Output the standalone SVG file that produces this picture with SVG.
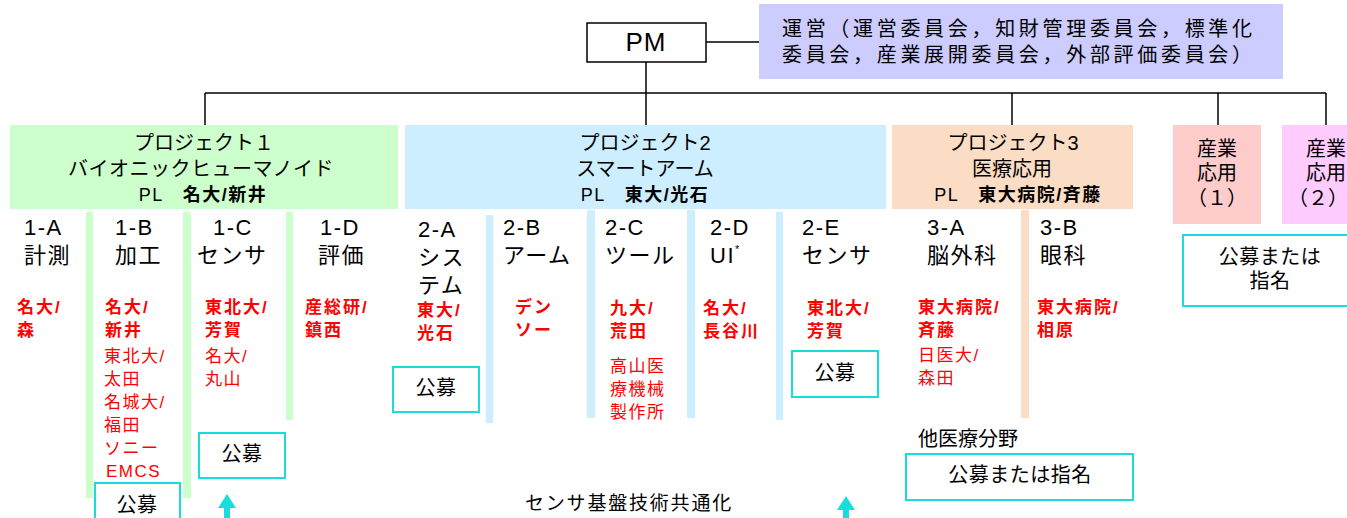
<svg xmlns="http://www.w3.org/2000/svg" width="1347" height="518" viewBox="0 0 1347 518">
<style>
text{font-family:"Liberation Sans","Noto Sans CJK JP",sans-serif;fill:#000}
.hd{font-size:20px;text-anchor:middle}
.pl{font-size:18px;text-anchor:middle;letter-spacing:1.5px}
.b{font-weight:bold}
.ct{font-size:22px;letter-spacing:1.5px}
.r{font-size:17px;fill:#ff0000;letter-spacing:1.5px}
.rb{font-size:17px;fill:#ff0000;font-weight:bold;letter-spacing:2px}
.cy{fill:#fff;stroke:#1adcdc;stroke-width:2}
.bx{font-size:20px;text-anchor:middle;letter-spacing:0.5px}
.ln{stroke:#000;stroke-width:1.5;fill:none}
.g{fill:#ccffcc}.bl{fill:#cceeff}.pe{fill:#fbdcc4}
.ar{fill:#1adcdc}
</style>
<g id="connectors">
<line class="ln" x1="706" y1="42" x2="759" y2="42"/>
<line class="ln" x1="646" y1="62" x2="646" y2="125"/>
<line class="ln" x1="205" y1="93" x2="1326" y2="93"/>
<line class="ln" x1="205" y1="93" x2="205" y2="125"/>
<line class="ln" x1="1012" y1="93" x2="1012" y2="125"/>
<line class="ln" x1="1218" y1="93" x2="1218" y2="125"/>
<line class="ln" x1="1326" y1="93" x2="1326" y2="125"/>
</g>
<g id="pm">
<rect x="587" y="23" width="119" height="39" fill="#fff" stroke="#000" stroke-width="1.5"/>
<text x="646" y="51" font-size="26" text-anchor="middle" letter-spacing="1">PM</text>
</g>
<g id="unei">
<rect x="759" y="4" width="524" height="75" fill="#ccccff"/>
<text x="782" y="36" font-size="20" textLength="470" lengthAdjust="spacing">運営（運営委員会，知財管理委員会，標準化</text>
<text x="782" y="62" font-size="20" textLength="470" lengthAdjust="spacing">委員会，産業展開委員会，外部評価委員会）</text>
</g>
<g id="project1">
<rect class="g" x="10" y="125" width="388" height="84"/>
<text class="hd" x="204" y="150">プロジェクト１</text>
<text class="hd" x="201" y="176" letter-spacing="0.5">バイオニックヒューマノイド</text>
<text class="pl" x="203" y="201">PL　<tspan class="b">名大/新井</tspan></text>
</g>
<g id="project2">
<rect class="bl" x="405" y="125" width="481" height="84"/>
<text class="hd" x="645" y="150">プロジェクト2</text>
<text class="hd" x="645" y="176">スマートアーム</text>
<text class="pl" x="645" y="201">PL　<tspan class="b">東大/光石</tspan></text>
</g>
<g id="project3">
<rect class="pe" x="892" y="125" width="241" height="84"/>
<text class="hd" x="1013" y="150">プロジェクト3</text>
<text class="hd" x="1012" y="176">医療応用</text>
<text class="pl" x="1018" y="201">PL　<tspan class="b">東大病院/斉藤</tspan></text>
</g>
<g id="sangyo1">
<rect x="1173" y="125" width="88" height="99" fill="#ffcccc"/>
<text class="hd" x="1217" y="156">産業</text>
<text class="hd" x="1217" y="180">応用</text>
<text class="hd" x="1217" y="205">（１）</text>
</g>
<g id="sangyo2">
<rect x="1282" y="125" width="90" height="99" fill="#ffccff"/>
<text class="hd" x="1326" y="156">産業</text>
<text class="hd" x="1326" y="180">応用</text>
<text class="hd" x="1318" y="205">（２）</text>
</g>
<g id="bars">
<rect class="g" x="86" y="212" width="7" height="286"/>
<rect class="g" x="183" y="212" width="8" height="286"/>
<rect class="g" x="286" y="212" width="7" height="208"/>
<rect class="bl" x="486" y="215" width="7" height="208"/>
<rect class="bl" x="587" y="210" width="8" height="208"/>
<rect class="bl" x="687" y="210" width="8" height="208"/>
<rect class="bl" x="776" y="212" width="7" height="208"/>
<rect class="pe" x="1021" y="210" width="8" height="208"/>
</g>
<g id="col-1A">
<text class="ct" x="24" y="235">1-A</text>
<text class="ct" x="24" y="263">計測</text>
<text class="rb" x="17" y="313">名大/</text>
<text class="rb" x="17" y="336">森</text>
</g>
<g id="col-1B">
<text class="ct" x="115" y="235">1-B</text>
<text class="ct" x="115" y="263">加工</text>
<text class="rb" x="105" y="313">名大/</text>
<text class="rb" x="105" y="336">新井</text>
<text class="r" x="104" y="362">東北大/</text>
<text class="r" x="104" y="385">太田</text>
<text class="r" x="104" y="408">名城大/</text>
<text class="r" x="104" y="431">福田</text>
<text class="r" x="104" y="454">ソニー</text>
<text class="r" x="106" y="477" letter-spacing="0.5">EMCS</text>
</g>
<g id="col-1C">
<text class="ct" x="213" y="235">1-C</text>
<text class="ct" x="197" y="263">センサ</text>
<text class="rb" x="205" y="313">東北大/</text>
<text class="rb" x="205" y="336">芳賀</text>
<text class="r" x="205" y="362">名大/</text>
<text class="r" x="205" y="385">丸山</text>
</g>
<g id="col-1D">
<text class="ct" x="320" y="235">1-D</text>
<text class="ct" x="318" y="263">評価</text>
<text class="rb" x="305" y="313">産総研/</text>
<text class="rb" x="305" y="336">鎮西</text>
</g>
<g id="col-2A">
<text class="ct" x="418" y="237">2-A</text>
<text class="ct" x="418" y="265">シス</text>
<text class="ct" x="418" y="293">テム</text>
<text class="rb" x="417" y="316">東大/</text>
<text class="rb" x="417" y="339">光石</text>
</g>
<g id="col-2B">
<text class="ct" x="503" y="235">2-B</text>
<text class="ct" x="503" y="263">アーム</text>
<text class="rb" x="515" y="313">デン</text>
<text class="rb" x="515" y="336">ソー</text>
</g>
<g id="col-2C">
<text class="ct" x="605" y="235">2-C</text>
<text class="ct" x="605" y="263">ツール</text>
<text class="rb" x="610" y="314">九大/</text>
<text class="rb" x="610" y="337">荒田</text>
<text class="r" x="610" y="372">高山医</text>
<text class="r" x="610" y="395">療機械</text>
<text class="r" x="610" y="418">製作所</text>
</g>
<g id="col-2D">
<text class="ct" x="710" y="235">2-D</text>
<text class="ct" x="710" y="263">UI<tspan font-size="11" dy="-10">*</tspan></text>
<text class="rb" x="703" y="314">名大/</text>
<text class="rb" x="703" y="337">長谷川</text>
</g>
<g id="col-2E">
<text class="ct" x="802" y="235">2-E</text>
<text class="ct" x="802" y="263">センサ</text>
<text class="rb" x="807" y="314">東北大/</text>
<text class="rb" x="807" y="337">芳賀</text>
</g>
<g id="col-3A">
<text class="ct" x="927" y="235">3-A</text>
<text class="ct" x="927" y="263">脳外科</text>
<text class="rb" x="918" y="313">東大病院/</text>
<text class="rb" x="918" y="336">斉藤</text>
<text class="r" x="918" y="361">日医大/</text>
<text class="r" x="918" y="384">森田</text>
</g>
<g id="col-3B">
<text class="ct" x="1040" y="235">3-B</text>
<text class="ct" x="1040" y="263">眼科</text>
<text class="rb" x="1037" y="313">東大病院/</text>
<text class="rb" x="1037" y="336">相原</text>
</g>
<g id="koubo-1B">
<rect class="cy" x="95" y="483" width="85" height="50"/>
<text class="bx" x="137" y="512">公募</text>
</g>
<g id="koubo-1C">
<rect class="cy" x="199" y="433" width="86" height="45"/>
<text class="bx" x="242" y="461">公募</text>
</g>
<g id="koubo-2A">
<rect class="cy" x="393" y="367" width="86" height="45"/>
<text class="bx" x="436" y="395">公募</text>
</g>
<g id="koubo-2E">
<rect class="cy" x="792" y="351" width="86" height="46"/>
<text class="bx" x="835" y="380">公募</text>
</g>
<g id="other-medical">
<text x="918" y="446" font-size="20">他医療分野</text>
<rect class="cy" x="906" y="454" width="227" height="46"/>
<text class="bx" x="1020" y="482">公募または指名</text>
</g>
<g id="koubo-sangyo">
<rect class="cy" x="1183" y="235" width="180" height="71"/>
<text class="bx" x="1270" y="264">公募または</text>
<text class="bx" x="1270" y="288">指名</text>
</g>
<g id="sensor-common">
<text x="525" y="510" font-size="19" letter-spacing="1.8">センサ基盤技術共通化</text>
<polygon class="ar" points="227,494 236,508 218,508"/>
<rect class="ar" x="224" y="507" width="6" height="11"/>
<polygon class="ar" points="846,496 855,510 837,510"/>
<rect class="ar" x="843" y="509" width="6" height="9"/>
</g>
</svg>
